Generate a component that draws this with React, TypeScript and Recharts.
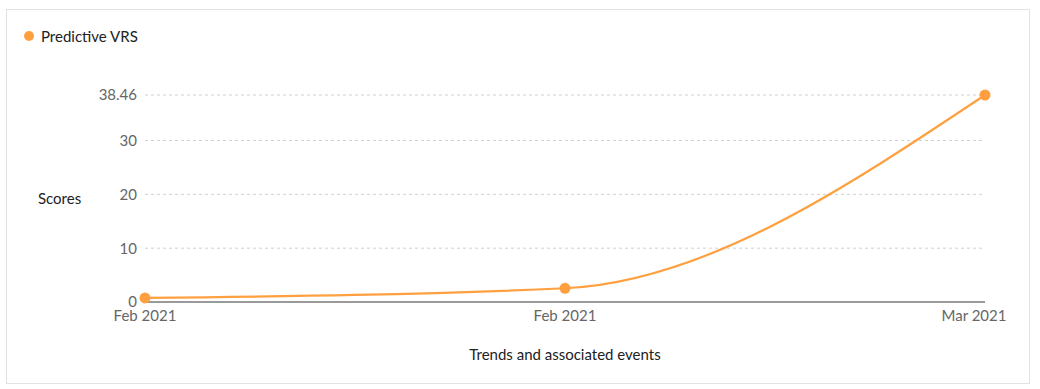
import React from 'react';
import { LineChart, Line, XAxis, YAxis, CartesianGrid, Legend } from 'recharts';

const categories = ['Feb 2021', 'Feb 2021', 'Mar 2021'];
const vrsValues = [0.75, 2.55, 38.46];
const yTicks = [0, 10, 20, 30, 38.46];

const data = categories.map((c, i) => ({ period: c, vrs: vrsValues[i] }));

const ORANGE = '#FFA040';
const FONT = 'Lato, "Open Sans", sans-serif';

const XTick = (props: any) => {
  const { x, y, payload, index } = props;
  const last = index === categories.length - 1;
  return (
    <text x={x} y={y} dx={last ? -11 : 0} dy="0.71em" textAnchor="middle" fill="#666" fontSize={15} fontFamily={FONT}>
      {payload.value}
    </text>
  );
};

const LegendContent = () => (
  <div style={{ display: 'flex', alignItems: 'center', fontFamily: FONT, fontSize: 15, color: '#222', height: 20 }}>
    <span style={{ display: 'inline-block', width: 10, height: 10, borderRadius: 5, background: ORANGE, marginRight: 7 }} />
    <span>Predictive VRS</span>
  </div>
);

export default function App() {
  return (
    <div style={{ position: 'absolute', left: 6, top: 9, width: 1022, height: 373, border: '1px solid #e2e2e2', background: '#fff' }}>
      <LineChart width={1022} height={373} data={data} margin={{ top: 65, right: 44, left: 0, bottom: 0 }}>
        <Legend
          verticalAlign="top"
          align="left"
          content={<LegendContent />}
          wrapperStyle={{ position: 'absolute', left: 17, top: 16, width: 200, height: 20 }}
        />
        <CartesianGrid vertical={false} strokeDasharray="3 3" stroke="#d0d0d0" />
        <XAxis
          dataKey="period"
          height={81}
          tickLine={false}
          axisLine={{ stroke: '#9a9a9a', strokeWidth: 2 }}
          tick={<XTick />}
          interval={0}
          label={{ value: 'Trends and associated events', position: 'insideBottom', offset: 23, fill: '#222', fontSize: 15, fontFamily: FONT }}
        />
        <YAxis
          width={138}
          domain={[0, 38.46]}
          ticks={yTicks}
          tickLine={false}
          axisLine={false}
          tick={{ fill: '#666', fontSize: 15, fontFamily: FONT }}
          label={{ value: 'Scores', position: 'insideLeft', offset: 31, fill: '#222', fontSize: 15, fontFamily: FONT }}
        />
        <Line
          type="monotone"
          dataKey="vrs"
          stroke={ORANGE}
          strokeWidth={2.2}
          dot={{ r: 5.5, fill: ORANGE, stroke: 'none' }}
          activeDot={false}
          isAnimationActive={false}
        />
      </LineChart>
    </div>
  );
}
